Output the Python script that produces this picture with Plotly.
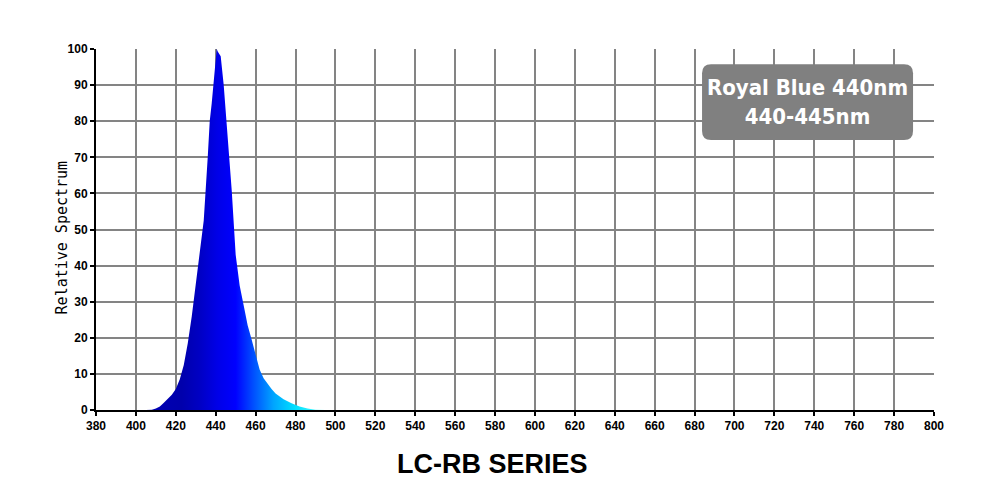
import plotly.graph_objects as go

# Wavelength (nm) and relative spectrum values
wavelength = [405, 408, 410, 412, 414, 416, 418, 420, 422, 424, 426, 428, 430, 432, 434,
              436, 437, 438, 439, 440, 440.5, 441, 442.5, 444, 445, 446, 448, 450, 452,
              454, 456, 458, 460, 462, 464, 466, 468, 470, 474, 478, 482, 486, 490, 495]
relative = [0, 0.1, 0.4, 1.0, 2.0, 3.0, 4.2, 5.8, 8.5, 12.5, 18.5, 26.0, 34.5, 44.0, 52.5,
            70.0, 80.0, 85.0, 91.0, 96.5, 100, 99.3, 98.0, 90.0, 83.0, 75.0, 61.0, 43.0, 34.5,
            29.0, 23.5, 19.5, 15.0, 11.2, 8.8, 7.2, 5.8, 4.6, 3.0, 1.9, 1.0, 0.4, 0.1, 0]

x_ticks = list(range(380, 801, 20))
y_ticks = list(range(0, 101, 10))

title_text = "LC-RB SERIES"
box_lines = ["Royal Blue 440nm", "440-445nm"]
y_title = "Relative Spectrum"

fig = go.Figure()
fig.add_trace(go.Scatter(
    x=wavelength, y=relative,
    mode="lines", line=dict(width=0, color="rgba(0,0,0,0)"),
    fill="tozeroy",
    fillgradient=dict(
        type="horizontal", start=405, stop=495,
        colorscale=[
            [0.0, "#0000B4"],
            [0.20, "#0000AC"],
            [0.30, "#0000C4"],
            [0.40, "#0000E8"],
            [0.50, "#0000FF"],
            [0.60, "#0050FF"],
            [0.71, "#00A4FF"],
            [0.83, "#00E0FF"],
            [1.0, "#60FFFF"],
        ],
    ),
    hoverinfo="skip", showlegend=False,
))

tick_font = dict(family="Liberation Sans, Arial, sans-serif", size=12, color="black", weight="bold")

fig.update_xaxes(
    range=[380, 800], tickvals=x_ticks, ticktext=[str(v) for v in x_ticks],
    showgrid=True, gridcolor="#848484", gridwidth=1.5,
    showline=True, linecolor="black", linewidth=2,
    ticks="outside", ticklen=4, tickcolor="black", tickwidth=1.5,
    tickfont=tick_font, zeroline=False,
)
fig.update_yaxes(
    range=[0, 100], tickvals=y_ticks, ticktext=[str(v) for v in y_ticks],
    showgrid=True, gridcolor="#848484", gridwidth=1.5,
    showline=True, linecolor="black", linewidth=2,
    ticks="outside", ticklen=4, tickcolor="black", tickwidth=1.5,
    tickfont=tick_font, zeroline=False,
)

# Y-axis title placed as a rotated annotation so it sits close to the tick labels
fig.add_annotation(
    xref="paper", yref="paper", x=-0.0406, y=0.478, xanchor="center", yanchor="middle",
    text=y_title, textangle=-90, showarrow=False,
    font=dict(family="DejaVu Sans Mono, monospace", size=15, color="black"),
)

# Rounded gray label box (paper coordinates)
x0, x1, yb, yt = 0.7232, 0.975, 0.748, 0.958
rx, ry = 9 / 838, 9 / 361
path = (f"M {x0+rx},{yt} L {x1-rx},{yt} Q {x1},{yt} {x1},{yt-ry} "
        f"L {x1},{yb+ry} Q {x1},{yb} {x1-rx},{yb} "
        f"L {x0+rx},{yb} Q {x0},{yb} {x0},{yb+ry} "
        f"L {x0},{yt-ry} Q {x0},{yt} {x0+rx},{yt} Z")
fig.add_shape(type="path", xref="paper", yref="paper", path=path,
              fillcolor="#808080", line=dict(width=0), layer="above")

fig.add_annotation(
    xref="paper", yref="paper", x=(x0 + x1) / 2, y=(yb + yt) / 2,
    xanchor="center", yanchor="middle",
    text="<br>".join(box_lines), showarrow=False, align="center",
    font=dict(family="DejaVu Sans Condensed, DejaVu Sans, sans-serif", size=22, color="white", weight="bold"),
)

fig.add_annotation(
    xref="paper", yref="paper", x=0.4726, y=-0.15, xanchor="center", yanchor="middle",
    text=title_text, showarrow=False,
    font=dict(family="Liberation Sans, Arial, sans-serif", size=27, color="black", weight="bold"),
)

# page body has an 8px margin, so the figure is sized/placed to compensate
fig.update_layout(
    width=992, height=492,
    margin=dict(l=88, r=66, t=41, b=90),
    paper_bgcolor="white", plot_bgcolor="white",
    showlegend=False,
)

fig.write_html("out.html")
